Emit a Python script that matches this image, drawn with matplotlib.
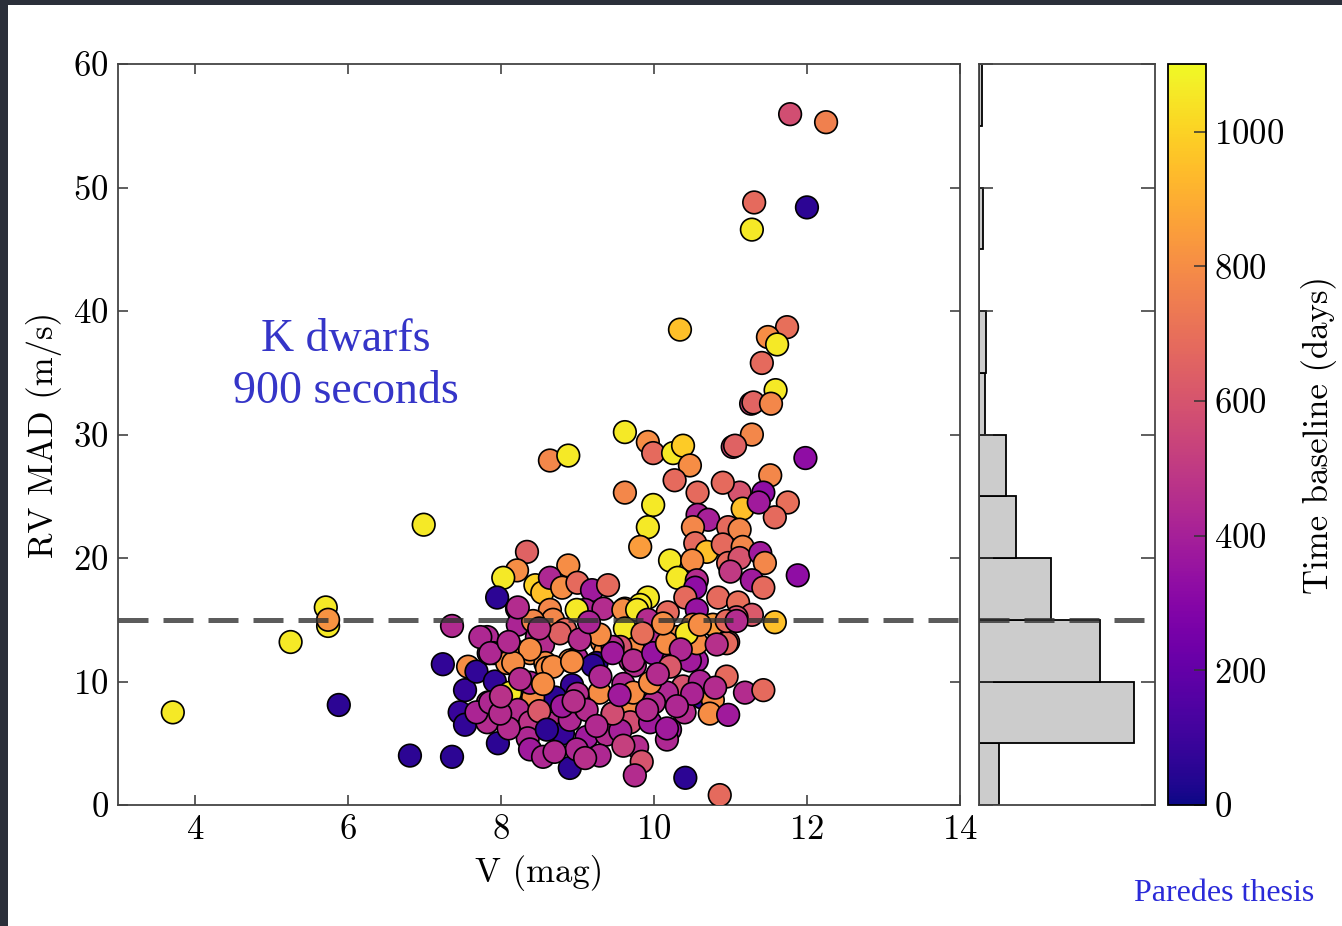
import matplotlib
matplotlib.use("Agg")
import matplotlib.pyplot as plt
from matplotlib.patches import Rectangle

plt.rcParams['font.family'] = ['cmr10', 'DejaVu Serif']
plt.rcParams['mathtext.fontset'] = 'cm'
plt.rcParams['axes.formatter.use_mathtext'] = True

# V magnitude, RV MAD (m/s), time baseline (days) for each star
v_mag = [3.71, 5.25, 5.71, 5.74, 5.74, 5.88, 6.99, 6.81, 7.36, 7.36, 7.24, 7.57, 7.53, 7.46, 7.53, 7.68, 7.92, 7.96, 10.41, 10.86,
         11.78, 12.25, 11.31, 12.0, 11.28, 10.34, 11.74, 11.49, 11.61, 11.41, 11.59, 11.27, 11.3, 11.53, 11.28, 11.98, 11.03, 11.06, 11.52, 11.43,
         11.12, 11.75, 11.58, 11.16, 11.37,
         8.64, 8.88, 9.62, 9.92, 9.99, 10.25, 10.38, 10.47, 10.27, 9.62, 10.57, 10.9, 9.99, 9.92, 9.82, 10.57, 10.71, 10.51, 10.97, 11.12,
         10.54, 10.69, 10.9, 11.16, 8.34,
         10.21, 10.5, 10.97, 11.12, 11.39, 11.45, 11.88, 10.31, 10.56, 11.0, 11.28, 11.43, 10.54, 10.41, 9.92, 9.82, 9.62, 10.84, 11.1, 10.56,
         10.18, 11.28, 11.08, 11.58, 8.21, 8.03, 7.95, 8.88, 8.45, 8.54, 8.64, 8.8, 9.0, 9.19, 9.4, 9.1, 9.34, 9.6, 9.78, 8.21,
         8.64, 8.99,
         9.92, 10.12, 10.51, 10.77, 10.3, 10.97, 10.04, 9.62, 9.73, 9.69, 10.21, 10.54, 8.22, 8.68, 8.84, 8.42, 7.82, 7.9, 8.47, 8.55,
         8.21, 8.08, 8.38, 8.99, 9.32, 9.36, 9.56, 9.25, 8.58, 8.9, 7.84, 8.6, 9.2, 9.75, 10.23, 10.56, 9.46,
         7.73, 7.86, 8.22, 8.77, 8.38, 8.16, 8.68, 8.93, 9.46, 9.73, 9.99, 10.25, 10.47, 10.56, 10.17, 10.95, 10.43, 10.12, 10.6, 10.82,
         10.95, 11.08, 9.29, 9.03, 9.15, 8.5, 8.1, 9.85, 10.35,
         8.12, 7.83, 7.82, 8.93, 8.71, 8.42, 8.38, 8.22, 8.38, 8.35, 8.68, 8.81, 8.9, 9.1, 9.12, 9.29, 9.46, 9.38, 9.69, 9.69,
         9.95, 10.38, 10.17, 10.63, 10.77, 10.73, 10.97, 10.95, 11.19, 11.43, 9.95, 10.21, 10.17, 9.56, 7.68, 8.1, 8.5, 8.8, 9.0, 9.6,
         10.0, 10.4, 10.6, 10.8,
         7.86, 7.99, 8.6, 9.12, 9.46, 9.73, 9.95, 9.91, 10.17, 10.21, 8.25, 8.55, 9.3, 9.55, 10.05, 10.5, 8.95, 9.25, 8.0, 10.3,
         8.38, 8.55, 9.29, 8.9, 8.99, 9.78, 9.84, 9.75, 9.6, 8.7, 9.1]
rv_mad = [7.5, 13.2, 16.0, 14.5, 15.0, 8.1, 22.7, 4.0, 3.9, 14.5, 11.4, 11.2, 9.3, 7.5, 6.5, 10.8, 10.0, 5.0, 2.2, 0.8,
          55.95, 55.3, 48.8, 48.4, 46.6, 38.5, 38.7, 37.9, 37.3, 35.8, 33.6, 32.5, 32.6, 32.5, 30.0, 28.1, 29.0, 29.1, 26.7, 25.3,
          25.3, 24.5, 23.3, 24.0, 24.5,
          27.9, 28.3, 30.2, 29.4, 28.5, 28.5, 29.1, 27.5, 26.3, 25.3, 25.3, 26.1, 24.3, 22.5, 20.9, 23.5, 23.1, 22.5, 22.5, 22.3,
          21.2, 20.5, 21.1, 20.9, 20.5,
          19.8, 19.8, 19.6, 20.0, 20.4, 19.6, 18.6, 18.4, 18.2, 18.9, 18.2, 17.6, 17.6, 16.8, 16.8, 16.2, 15.9, 16.8, 16.4, 15.8,
          15.6, 15.4, 15.2, 14.8, 19.0, 18.4, 16.8, 19.4, 17.8, 17.2, 18.4, 17.6, 18.0, 17.4, 17.8, 15.8, 15.9, 15.8, 15.8, 15.9,
          15.8, 15.8,
          15.0, 14.4, 14.6, 14.6, 13.6, 13.2, 13.2, 14.3, 12.6, 11.7, 11.7, 11.7, 14.6, 15.0, 14.2, 14.9, 13.6, 12.3, 13.6, 13.0,
          12.4, 11.5, 12.3, 11.9, 13.2, 12.4, 12.8, 11.5, 11.5, 11.7, 12.3, 11.1, 11.3, 11.3, 11.9, 11.7, 12.8,
          13.6, 12.3, 16.0, 13.9, 12.6, 11.5, 11.2, 11.6, 12.3, 11.7, 12.3, 11.7, 11.7, 13.1, 13.1, 13.1, 13.9, 14.7, 14.6, 13.0,
          14.9, 14.9, 13.8, 13.4, 14.8, 14.3, 13.2, 13.9, 12.6,
          9.1, 8.3, 6.7, 9.7, 8.7, 8.7, 9.9, 7.7, 6.7, 5.4, 6.6, 5.8, 6.9, 7.9, 5.5, 9.1, 7.4, 5.7, 8.1, 6.7,
          9.7, 9.6, 9.1, 8.7, 8.5, 7.4, 7.3, 10.4, 9.1, 9.3, 6.7, 6.1, 5.3, 6.0, 7.5, 6.2, 7.6, 8.0, 9.0, 9.8,
          8.3, 7.5, 10.0, 9.5,
          8.3, 7.4, 6.1, 7.7, 7.4, 9.1, 9.9, 7.7, 6.2, 11.2, 10.2, 9.8, 10.4, 8.9, 10.6, 9.0, 8.4, 6.4, 8.8, 8.0,
          4.5, 3.9, 4.0, 3.0, 4.5, 4.7, 3.5, 2.4, 4.8, 4.3, 3.8]
baseline = [1060, 1060, 1060, 1060, 820, 60, 1060, 60, 60, 440, 70, 800, 80, 90, 70, 70, 70, 60, 60, 680,
            580, 760, 680, 60, 1060, 950, 700, 800, 1060, 680, 1060, 560, 660, 780, 780, 330, 560, 650, 780, 330,
            600, 700, 680, 950, 380,
            780, 1060, 1060, 800, 680, 1060, 980, 800, 680, 780, 680, 680, 1060, 1060, 850, 420, 400, 780, 680, 780,
            680, 950, 680, 780, 650,
            1060, 800, 680, 600, 380, 780, 330, 1060, 450, 500, 380, 680, 330, 680, 1060, 1060, 800, 680, 700, 350,
            680, 620, 600, 950, 800, 1060, 60, 800, 1000, 950, 430, 800, 680, 380, 680, 420, 450, 800, 1060, 450,
            780, 1060,
            450, 800, 800, 850, 800, 620, 450, 1060, 800, 450, 420, 350, 420, 780, 680, 780, 430, 420, 430, 450,
            800, 800, 800, 420, 800, 800, 600, 60, 800, 800, 450, 800, 60, 450, 380, 380, 450,
            430, 430, 450, 650, 800, 800, 800, 800, 380, 450, 350, 450, 380, 800, 800, 680, 1060, 800, 800, 460,
            680, 450, 800, 450, 420, 470, 440, 700, 430,
            1060, 450, 450, 80, 60, 800, 420, 450, 480, 430, 450, 80, 430, 430, 380, 800, 450, 450, 800, 580,
            800, 600, 430, 80, 800, 800, 380, 680, 450, 680, 380, 380, 430, 400, 420, 450, 620, 380, 450, 430,
            450, 450, 420, 450,
            430, 450, 60, 450, 580, 800, 800, 450, 380, 620, 450, 800, 430, 380, 450, 420, 460, 440, 470, 430,
            380, 430, 430, 60, 430, 450, 600, 450, 520, 440, 460]

# histogram of RV MAD (counts per 5 m/s bin)
bin_lo = [0, 5, 10, 15, 20, 25, 30, 35, 40, 45, 50, 55]
bin_counts = [14, 110, 86, 51, 26, 19, 4, 5, 0, 3, 0, 2]
threshold = 15

fig = plt.figure(figsize=(13.42, 9.26), dpi=100, facecolor='#2b2f3a')
fig.patches.append(Rectangle((8 / 1342, 0), 1, 1 - 5 / 926, transform=fig.transFigure,
                             facecolor='white', edgecolor='none', zorder=-10))

ax = fig.add_axes([0.0883, 0.1307, 0.627, 0.800])
axh = fig.add_axes([0.7295, 0.1307, 0.1311, 0.800])
cax = fig.add_axes([0.8703, 0.1307, 0.0283, 0.800])

sc = ax.scatter(v_mag, rv_mad, c=baseline, cmap='plasma', vmin=0, vmax=1100,
                s=265, edgecolors='black', linewidths=1.2, zorder=3)
ax.axhline(threshold, color='#333333', lw=3.6, dashes=(6, 3), alpha=0.8, zorder=4)
ax.set_xlim(3, 14)
ax.set_ylim(0, 60)
ax.set_xticks([4, 6, 8, 10, 12, 14])
ax.set_yticks([0, 10, 20, 30, 40, 50, 60])
ax.tick_params(direction='in', top=True, right=True, length=7, width=1.1,
               labelsize=25, pad=7, color='#333333')
ax.set_xlabel('V (mag)', fontsize=25, labelpad=6)
ax.set_ylabel('RV MAD (m/s)', fontsize=25, labelpad=8)
ax.text(5.97, 35.6, 'K dwarfs\n900 seconds', color='#3535c8', fontsize=33,
        family='Liberation Serif', ha='center', va='center', linespacing=1.3)

axh.barh(bin_lo, bin_counts, height=5, align='edge', color='#cccccc',
         edgecolor='black', linewidth=1.3)
axh.axhline(threshold, color='#333333', lw=3.6, dashes=(6, 3), alpha=0.8, zorder=4)
axh.set_ylim(0, 60)
axh.set_xlim(0, 125)
axh.set_yticks([0, 10, 20, 30, 40, 50, 60])
axh.set_xticks([])
axh.tick_params(direction='in', left=True, right=True, length=10, width=1.1,
                labelleft=False, color='#333333')

for a in (ax, axh):
    for sp in a.spines.values():
        sp.set_color('#444444')
        sp.set_linewidth(1.3)

cb = fig.colorbar(sc, cax=cax)
cb.set_ticks([0, 200, 400, 600, 800, 1000])
cb.ax.tick_params(direction='in', length=9, width=1.1, labelsize=25, pad=6, color='#333333')
cb.outline.set_linewidth(1.3)
cb.set_label('Time baseline (days)', fontsize=25, labelpad=12)

fig.text(0.9795, 0.035, 'Paredes thesis', color='#2a2ad8', fontsize=23,
         family='Liberation Serif', ha='right', va='center')

fig.savefig('out.png', dpi=100, facecolor=fig.get_facecolor())
